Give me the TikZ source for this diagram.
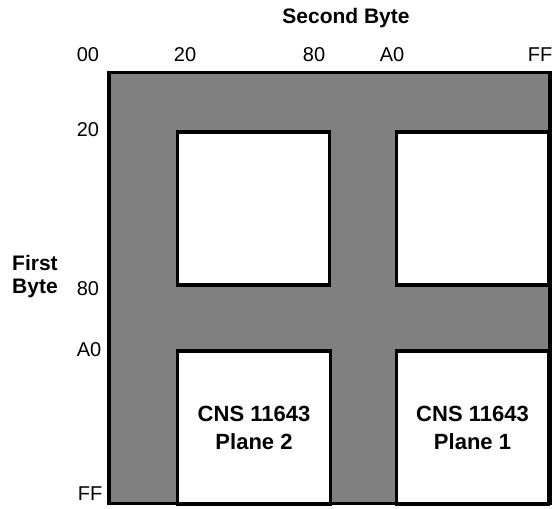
\documentclass[tikz,border=0pt]{standalone}
\usepackage{fontspec}
\setmainfont{Liberation Sans}
\begin{document}
\begin{tikzpicture}[x=1pt,y=-1pt,
  lbl/.style={inner sep=0pt,font=\fontsize{20}{22}\selectfont},
  ttl/.style={inner sep=0pt,font=\fontsize{21}{22}\selectfont\bfseries},
  cell/.style={draw=black,line width=3.5pt,fill=white,inner sep=0pt,align=center,
     font=\fontsize{22}{28}\selectfont\bfseries}]
\useasboundingbox (0,0) rectangle (556,508);
\node[draw=black,line width=3.5pt,fill={rgb,255:red,128;green,128;blue,128},inner sep=0pt,
  minimum width=441pt,minimum height=431pt] (outer) at (329.5,288) {};
\node[cell,minimum width=152pt,minimum height=153pt] (b1) at (253.5,208.5) {};
\node[cell,minimum width=152pt,minimum height=153pt] (b2) at (472.5,208.5) {};
\node[cell,minimum width=153pt,minimum height=153pt] (b3) at (254,427.5) {CNS 11643\\Plane 2};
\node[cell,minimum width=152pt,minimum height=153pt] (b4) at (472.5,427.5) {CNS 11643\\Plane 1};
\node[ttl] (sb) at (346,18) {Second Byte};
\node[ttl,align=left,anchor=west,font=\fontsize{21}{23}\selectfont\bfseries] (fb) at (12,277) {First\\Byte};
\node[lbl] (c00) at (88,55) {00};
\node[lbl] (c20) at (185,55) {20};
\node[lbl] (c80) at (314,55) {80};
\node[lbl] (cA0) at (392,55) {A0};
\node[lbl] (cFF) at (540,55) {FF};
\node[lbl] (r20) at (88,130) {20};
\node[lbl] (r80) at (88,289) {80};
\node[lbl] (rA0) at (89,350) {A0};
\node[lbl] (rFF) at (90,494) {FF};
\end{tikzpicture}
\end{document}
